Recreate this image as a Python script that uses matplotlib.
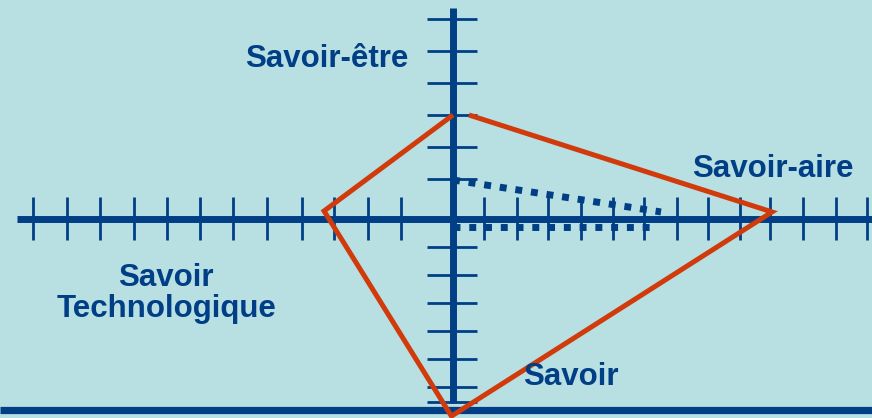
import matplotlib
matplotlib.use("Agg")
import matplotlib.pyplot as plt

# ---- data (units: one tick step ~ 32 px, origin at axis crossing) ----
polygon_x = [0.5, 9.97, -0.05, -4.03, 0.0]
polygon_y = [3.25, 0.22, -6.16, 0.25, 3.25]

dotted_upper_x = [0.0, 6.5]
dotted_upper_y = [1.22, 0.22]
dotted_lower_x = [0.0, 6.15]
dotted_lower_y = [-0.26, -0.26]

xticks_pos = [-13.12, -12.07, -11.03, -9.98, -8.94, -7.91, -6.86, -5.82, -4.73,
              -3.71, -2.67, -1.63, 0.97, 1.99, 2.98, 3.99, 4.99, 5.98, 6.99,
              7.98, 8.97, 9.91, 10.95, 11.97, 12.95]
yticks_pos = [6.25, 5.25, 4.25, 3.25, 2.25, 1.25, -0.875, -1.75, -2.625,
              -3.5, -4.375, -5.25, -5.72]

labels = ["Savoir-être", "Savoir-aire", "Savoir", "Technologique", "Savoir"]
label_x = [-3.95, 10.0, -8.98, -8.95, 3.67]
label_y = [4.76, 1.32, -2.09, -3.06, -5.19]

BG = "#b8dfe2"
BLUE = "#003e86"
RED = "#d13b0b"

fig = plt.figure(figsize=(8.72, 4.18), dpi=100)
fig.patch.set_facecolor(BG)
ax = fig.add_axes([0, 0, 1, 1])
ax.set_facecolor(BG)
ax.set_xlim(-453 / 32, (872 - 453) / 32)
ax.set_ylim((219 - 418) / 32, 219 / 32)
ax.axis("off")

# bottom band line
ax.axhline(-5.97, color=BLUE, lw=5.2, solid_capstyle="butt")

# horizontal axis with ticks
ax.plot([-13.62, 14], [0, 0], color=BLUE, lw=5.0, solid_capstyle="butt")
ax.vlines(xticks_pos, -0.66, 0.69, color=BLUE, lw=2.0)

# vertical axis with ticks
ax.plot([0, 0], [-5.75, 6.59], color=BLUE, lw=5.0, solid_capstyle="butt")
ax.hlines(yticks_pos, -0.81, 0.75, color=BLUE, lw=2.0)

# dotted lines
for xs, ys in [(dotted_upper_x, dotted_upper_y), (dotted_lower_x, dotted_lower_y)]:
    ax.plot(xs, ys, color=BLUE, lw=5.0, dashes=(1.0, 1.27),
            dash_capstyle="butt")

# red polygon
ax.plot(polygon_x, polygon_y, color=RED, lw=3.6, solid_joinstyle="miter",
        solid_capstyle="butt")

# labels
for t, x, y in zip(labels, label_x, label_y):
    ax.text(x, y, t, color=BLUE, fontsize=22.5, fontweight="bold",
            family=["Liberation Sans", "DejaVu Sans"], ha="center",
            va="baseline")

fig.savefig("out.png", dpi=100, facecolor=BG)
